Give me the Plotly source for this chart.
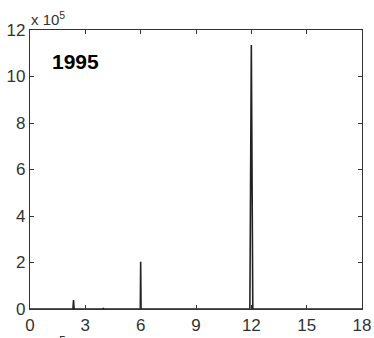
import plotly.graph_objects as go

# Spectrum samples: frequency positions and amplitudes of the peaks
freq = [0, 2.33, 2.36, 2.39, 3.93, 3.97, 4.01, 5.98, 6.00, 6.02, 11.92, 12.00, 12.08, 18]
amp = [0, 0, 39000, 0, 0, 2500, 0, 0, 203000, 0, 0, 1135000, 0, 0]

x_ticks = [0, 3, 6, 9, 12, 15, 18]
y_ticks = [0, 200000, 400000, 600000, 800000, 1000000, 1200000]
y_tick_text = ["0", "2", "4", "6", "8", "10", "12"]

W, H = 374, 338
L, R, T, B = 30, 12, 30, 29

fig = go.Figure()
fig.add_trace(go.Scatter(
    x=freq, y=amp, mode="lines",
    line=dict(color="#222222", width=1.6),
    hoverinfo="skip", showlegend=False,
))

axis_common = dict(
    showline=True, linecolor="#333333", linewidth=1.2, mirror="ticks",
    ticks="inside", ticklen=4, tickcolor="#333333", tickwidth=1,
    showgrid=False, zeroline=False, automargin=False,
    tickfont=dict(family="Liberation Sans, Arial", size=17, color="#333333"),
)

fig.update_layout(
    width=W, height=H,
    margin=dict(l=L, r=R, t=T, b=B, pad=0, autoexpand=False),
    paper_bgcolor="white", plot_bgcolor="white",
    xaxis=dict(range=[0, 18], tickvals=x_ticks, ticktext=[str(v) for v in x_ticks],
               ticklabelstandoff=0, **axis_common),
    yaxis=dict(range=[0, 1200000], tickvals=y_ticks, ticktext=y_tick_text,
               ticklabelstandoff=0, **axis_common),
    annotations=[
        dict(text="<b>1995</b>", xref="paper", yref="paper",
             x=(50 - L) / (W - L - R), y=(H - B - 48) / (H - T - B),
             xanchor="left", yanchor="top", showarrow=False,
             font=dict(family="Liberation Sans, Arial", size=21, color="black")),
        dict(text="x 10<sup>5</sup>", xref="paper", yref="paper",
             x=(29 - L) / (W - L - R), y=(H - B - 30) / (H - T - B),
             xanchor="left", yanchor="bottom", showarrow=False,
             font=dict(family="Liberation Sans, Arial", size=15, color="#333333")),
        dict(text="5", xref="paper", yref="paper",
             x=(62 - L) / (W - L - R), y=(H - B - 332) / (H - T - B),
             xanchor="center", yanchor="top", showarrow=False,
             font=dict(family="Liberation Sans, Arial", size=12, color="#333333")),
    ],
)

fig.write_html("out.html")
